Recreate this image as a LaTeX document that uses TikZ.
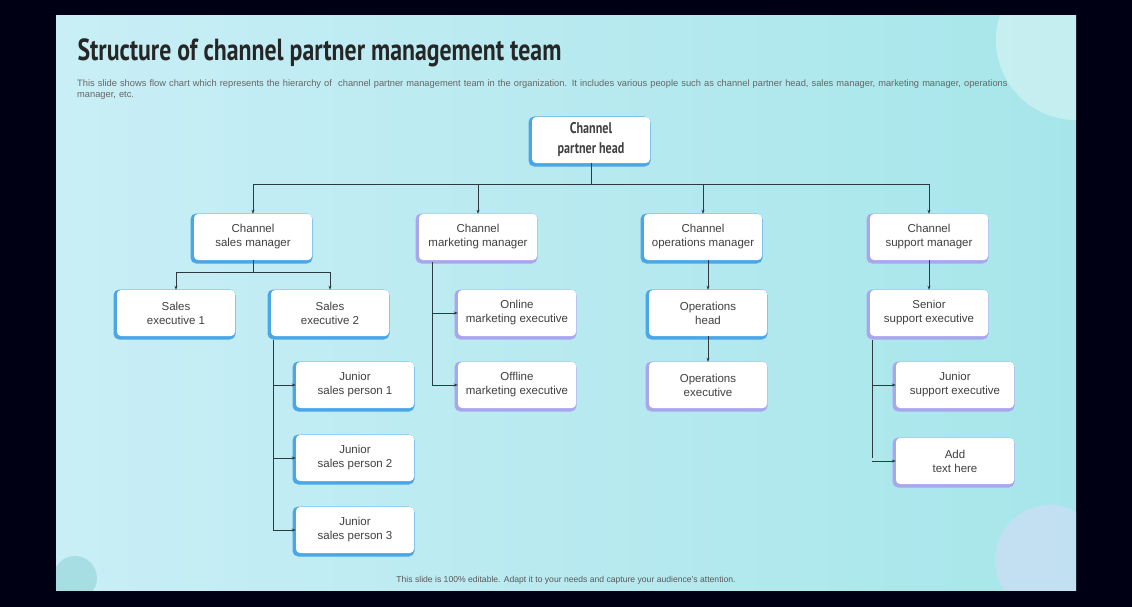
\documentclass[tikz,border=0pt]{standalone}
\usepackage{fontspec}
\setmainfont{Liberation Sans}
\newfontfamily\titlefont[FakeStretch=0.78]{PT Sans}
\usetikzlibrary{positioning,arrows.meta}
\definecolor{frameblue}{HTML}{4BA6E6}
\definecolor{framepurple}{HTML}{A9A6EE}
\definecolor{slidecyan}{HTML}{A6E6EA}
\definecolor{slidelight}{HTML}{C9EEF6}
\definecolor{linegray}{HTML}{2E3A40}
\tikzset{
  box/.style={draw=none, fill=white, rounded corners=4pt, minimum width=118pt,
    minimum height=46pt, align=center, font=\fontsize{11.5}{14}\selectfont, text=black!75},
  bluebox/.style={box, preaction={draw=frameblue, fill=frameblue, line width=4pt, rounded corners=6pt, transform canvas={shift={(-1.5pt,-1.5pt)}}}},
  purplebox/.style={box, preaction={draw=framepurple, fill=framepurple, line width=4pt, rounded corners=6pt, transform canvas={shift={(-1.5pt,-1.5pt)}}}},
  link/.style={draw=linegray, line width=0.6pt},
  arr/.style={link, -{Stealth[length=4pt,width=3pt]}}
}
\begin{document}
\begin{tikzpicture}[x=1pt,y=-1pt]
\useasboundingbox (0,0) rectangle (1132,607);
\fill[black!92!blue] (0,0) rectangle (1132,607);
\shade[left color=slidelight, right color=slidecyan] (56,16) rectangle (1076,590);
\begin{scope}
\clip (56,16) rectangle (1076,590);
\fill[white, opacity=0.35] (1076,40) circle (80);
\fill[framepurple!40!white, opacity=0.5] (1050,560) circle (55);
\fill[slidecyan!70!teal, opacity=0.4] (75,578) circle (22);
\end{scope}

\node[anchor=west, font=\titlefont\bfseries\fontsize{30.5}{32}\selectfont, text=black!85] (title) at (74,53) {Structure of channel partner management team};
\node[anchor=north west, align=left, text width=955pt, inner sep=0pt, font=\fontsize{9.3}{11}\selectfont, text=black!60] (desc) at (77,80)
  {This slide shows flow chart which represents the hierarchy of \ channel partner management team in the organization. It includes various people such as channel partner head, sales manager, marketing manager, operations manager, etc.};

\node[bluebox, font=\titlefont\bfseries\fontsize{15.5}{20}\selectfont] (head) at (591,140) {Channel\\partner head};

\node[bluebox] (salesmgr) at (253,237) {Channel\\sales manager};
\node[purplebox] (mktmgr) at (478,237) {Channel\\marketing manager};
\node[bluebox] (opsmgr) at (703,237) {Channel\\operations manager};
\node[purplebox] (supmgr) at (929,237) {Channel\\support manager};

\node[bluebox] (salesA) at (176,313) {Sales\\executive 1};
\node[bluebox] (salesB) at (330,313) {Sales\\executive 2};
\node[bluebox] (junA) at (355,385) {Junior\\sales person 1};
\node[bluebox] (junB) at (355,458) {Junior\\sales person 2};
\node[bluebox] (junC) at (355,530) {Junior\\sales person 3};

\node[purplebox] (online) at (517,313) {Online\\marketing executive};
\node[purplebox] (offline) at (517,385) {Offline\\marketing executive};

\node[bluebox] (opshead) at (708,313) {Operations\\head};
\node[purplebox] (opsexec) at (708,385) {Operations\\executive};

\node[purplebox] (senior) at (929,313) {Senior\\support executive};
\node[purplebox] (jsup) at (955,385) {Junior\\support executive};
\node[purplebox] (addtext) at (955,461) {Add\\text here};

\node[font=\fontsize{8.6}{10}\selectfont, text=black!65] (footer) at (566,580) {This slide is 100\% editable. Adapt it to your needs and capture your audience's attention.};

% head to managers
\coordinate (hbus) at (591,184);
\draw[link] (head.south) -- (hbus);
\draw[link] (salesmgr.north |- hbus) -- (supmgr.north |- hbus);
\foreach \m in {salesmgr,mktmgr,opsmgr,supmgr}
  \draw[arr] (\m.north |- hbus) -- (\m.north);

% sales
\coordinate (sbus) at (253,272);
\draw[link] (salesmgr.south) -- (sbus);
\draw[link] (salesA.north |- sbus) -- (salesB.north |- sbus);
\foreach \m in {salesA,salesB}
  \draw[arr] (\m.north |- sbus) -- (\m.north);
\coordinate (sdrop) at (273,340);
\draw[link] (sdrop) -- (273,530);
\foreach \m in {junA,junB,junC}
  \draw[arr] (273,0 |- \m.west) -- (\m.west);

% marketing
\coordinate (mdrop) at (432,262);
\draw[link] (mdrop) -- (432,385);
\foreach \m in {online,offline}
  \draw[arr] (432,0 |- \m.west) -- (\m.west);

% operations
\draw[arr] (opsmgr.south -| opshead) -- (opshead.north);
\draw[arr] (opshead.south) -- (opsexec.north);

% support
\draw[arr] (supmgr.south) -- (senior.north);
\coordinate (udrop) at (872,340);
\draw[link] (udrop) -- (872,458);
\foreach \m in {jsup,addtext}
  \draw[arr] (872,0 |- \m.west) -- (\m.west);
\end{tikzpicture}
\end{document}
